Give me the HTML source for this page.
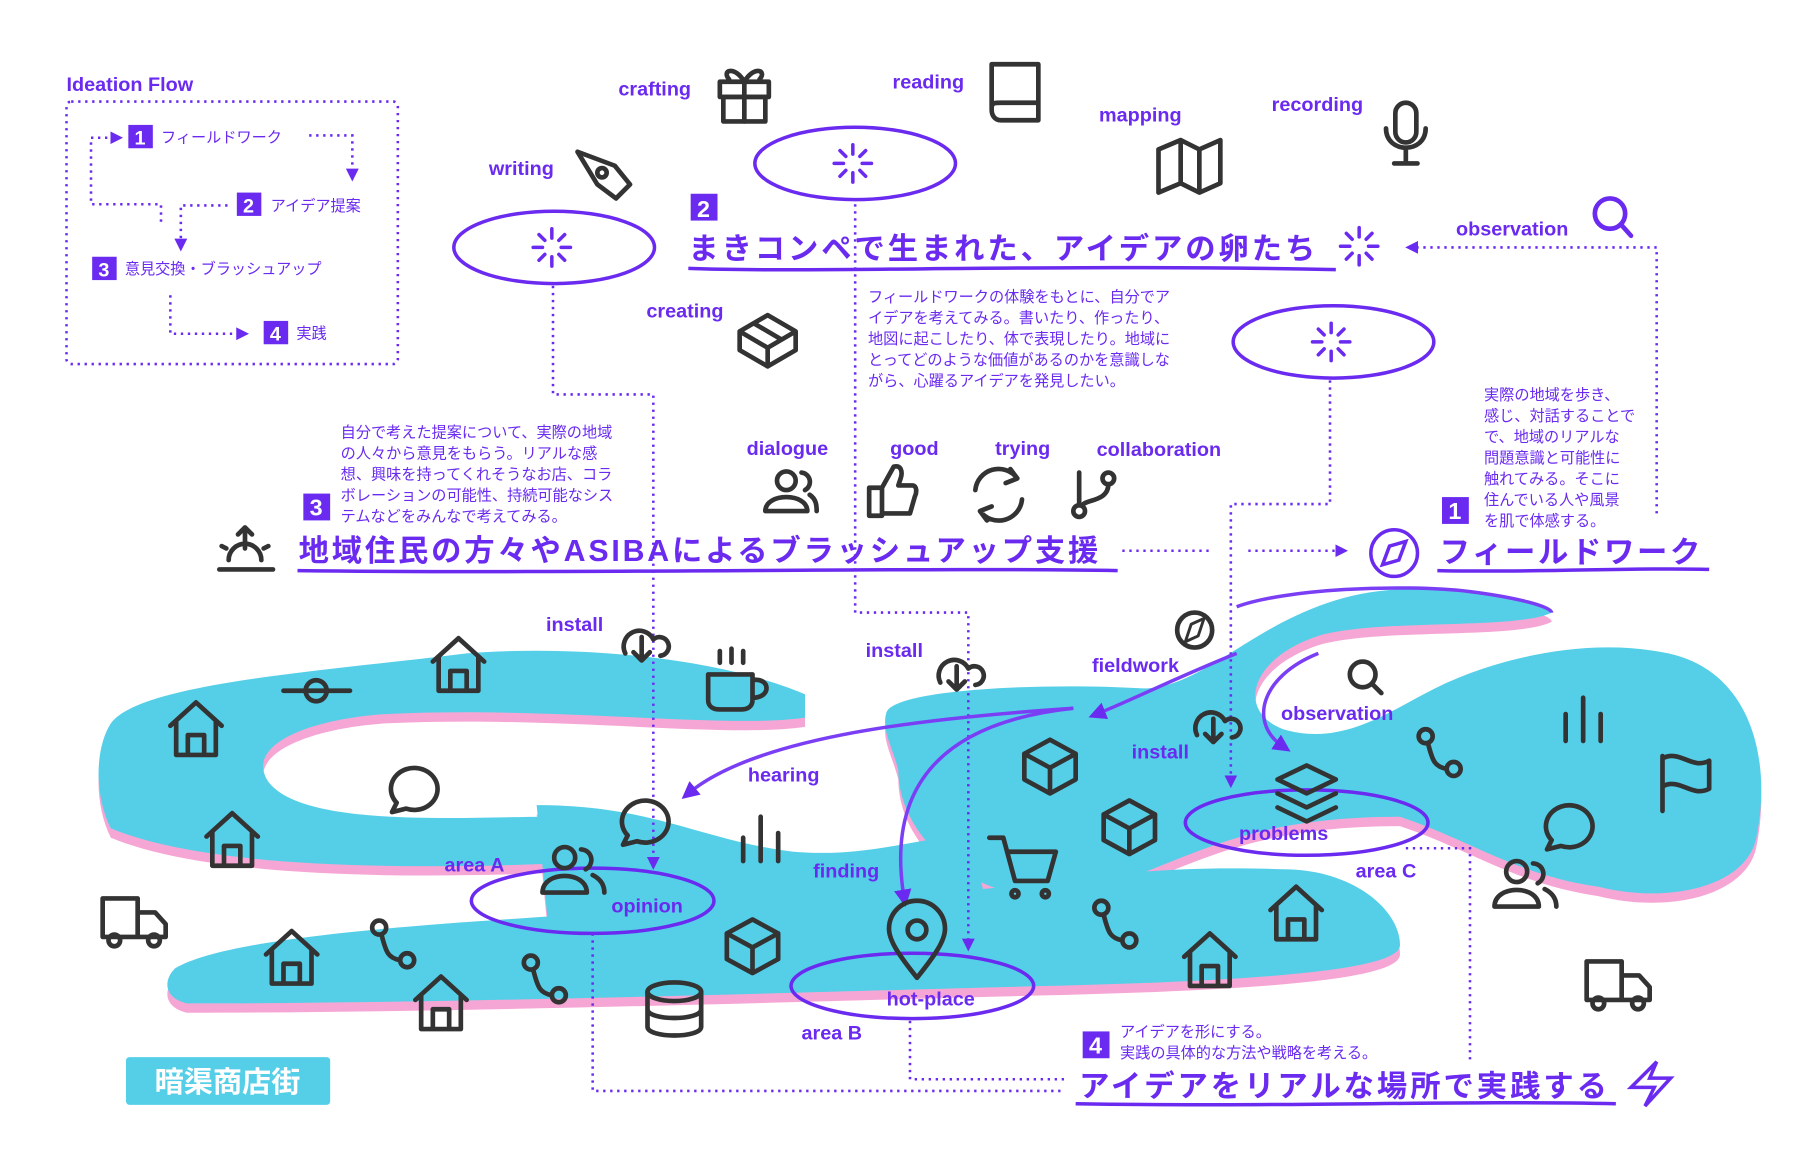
<!DOCTYPE html>
<html><head><meta charset="utf-8"><style>
html,body{margin:0;padding:0;background:#fff;}
svg{display:block;}
text{font-family:"Liberation Sans","Noto Sans CJK JP",sans-serif;}
.l{fill:#6a2af0;font-weight:bold;font-size:17px;}
.j{fill:#6a2af0;font-size:13px;}
.h{fill:#6a2af0;font-size:26px;font-weight:bold;letter-spacing:2.6px;}
.d{fill:none;stroke:#6a2af0;stroke-width:2.2;stroke-dasharray:2 4;}
.e{fill:none;stroke:#6a2af0;stroke-width:3;}
.i{fill:none;stroke:#333;stroke-width:4;stroke-linecap:round;stroke-linejoin:round;}
.p{fill:none;stroke:#7a3ef5;stroke-width:3;}
</style></head><body>
<svg width="1820" height="1154" viewBox="0 0 1560 989" xmlns="http://www.w3.org/2000/svg">
<defs><marker id="a" viewBox="0 0 10 10" refX="5" refY="5" markerWidth="5" markerHeight="5" orient="auto"><path d="M0,0L10,5L0,10Z" fill="#6a2af0"/></marker>
<g id="hs"><path d="M-22,0L0,-20 22,0M-17,-4V25H17V-4M-7,25V8H7V25"/></g>
<g id="cb"><path d="M0,-22L22,-10V12L0,24 -22,12V-10ZM-22,-10L0,2 22,-10M0,2V24"/></g>
<g id="br"><circle cx="0" cy="0" r="6"/><circle cx="24" cy="28" r="6"/><path d="M2,6C6,22 8,26 18,28"/></g>
</defs>
<g fill="#f6a6d4" transform="translate(0,8)">
<path d="M95,620C120,585 280,575 400,560C500,552 620,565 690,595L690,615C620,625 480,605 330,612C260,617 210,640 230,670C260,710 400,700 470,700L480,740C350,745 180,745 95,710C80,680 82,640 95,620Z"/>
<path d="M460,690C560,690 600,720 680,730C740,735 780,720 830,715L850,790L470,795Z"/>
<path d="M150,830C200,800 400,790 560,780C620,775 700,770 800,765C900,760 960,740 1100,745C1160,745 1200,780 1200,810C1200,830 1100,840 900,845C700,850 400,860 160,860C140,855 140,840 150,830Z"/>
<path d="M760,610C770,590 900,585 980,590C1040,590 1090,510 1200,505C1260,505 1330,515 1330,525C1300,540 1180,530 1130,545C1070,565 1060,610 1100,625C1150,640 1190,610 1230,590C1280,565 1360,545 1430,560C1500,575 1520,650 1505,720C1495,760 1430,775 1370,760C1300,750 1260,720 1200,700C1100,700 1050,720 1000,740C950,760 900,780 850,760C800,740 770,700 770,660C765,640 755,625 760,610Z"/>
</g>
<g fill="#55cfe8">
<path d="M95,620C120,585 280,575 400,560C500,552 620,565 690,595L690,615C620,625 480,605 330,612C260,617 210,640 230,670C260,710 400,700 470,700L480,740C350,745 180,745 95,710C80,680 82,640 95,620Z"/>
<path d="M460,690C560,690 600,720 680,730C740,735 780,720 830,715L850,790L470,795Z"/>
<path d="M150,830C200,800 400,790 560,780C620,775 700,770 800,765C900,760 960,740 1100,745C1160,745 1200,780 1200,810C1200,830 1100,840 900,845C700,850 400,860 160,860C140,855 140,840 150,830Z"/>
<path d="M760,610C770,590 900,585 980,590C1040,590 1090,510 1200,505C1260,505 1330,515 1330,525C1300,540 1180,530 1130,545C1070,565 1060,610 1100,625C1150,640 1190,610 1230,590C1280,565 1360,545 1430,560C1500,575 1520,650 1505,720C1495,760 1430,775 1370,760C1300,750 1260,720 1200,700C1100,700 1050,720 1000,740C950,760 900,780 850,760C800,740 770,700 770,660C765,640 755,625 760,610Z"/>
</g>
<path d="M1060,520C1100,505 1200,500 1260,507C1300,512 1330,520 1330,525" class="p"/>
<text x="57" y="78" class="l" font-size="14">Ideation Flow</text>
<rect x="57" y="87" width="284" height="225" rx="4" class="d"/>
<rect x="110" y="107" width="21" height="20" fill="#6a2af0"/><text x="120" y="124" fill="#fff" font-weight="bold" font-size="17" text-anchor="middle">1</text>
<text x="138" y="122" class="j" font-size="14">フィールドワーク</text>
<rect x="203" y="165" width="21" height="20" fill="#6a2af0"/><text x="213" y="182" fill="#fff" font-weight="bold" font-size="17" text-anchor="middle">2</text>
<text x="232" y="181" class="j" font-size="14">アイデア提案</text>
<rect x="79" y="220" width="21" height="20" fill="#6a2af0"/><text x="89" y="237" fill="#fff" font-weight="bold" font-size="17" text-anchor="middle">3</text>
<text x="107" y="235" class="j" font-size="14">意見交換・ブラッシュアップ</text>
<rect x="226" y="275" width="21" height="20" fill="#6a2af0"/><text x="236" y="292" fill="#fff" font-weight="bold" font-size="17" text-anchor="middle">4</text>
<text x="254" y="290" class="j" font-size="14">実践</text>
<path d="M265,116H302V150" class="d" marker-end="url(#a)"/>
<path d="M195,176H155V210" class="d" marker-end="url(#a)"/>
<path d="M138,190V175H78V118H100" class="d" marker-end="url(#a)"/>
<path d="M146,253V286H208" class="d" marker-end="url(#a)"/>
<ellipse cx="475" cy="212" rx="86" ry="31" class="e"/>
<ellipse cx="733" cy="140" rx="86" ry="31" class="e"/>
<ellipse cx="1143" cy="293" rx="86" ry="31" class="e"/>
<g stroke="#6a2af0" stroke-width="3" stroke-linecap="round">
<g transform="translate(473,212)"><path d="M0,-16V-8M0,8V16M-16,0H-8M8,0H16M-11,-11L-6,-6M6,6L11,11M-11,11L-6,6M6,-6L11,-11"/></g>
<g transform="translate(731,140)"><path d="M0,-16V-8M0,8V16M-16,0H-8M8,0H16M-11,-11L-6,-6M6,6L11,11M-11,11L-6,6M6,-6L11,-11"/></g>
<g transform="translate(1141,293)"><path d="M0,-16V-8M0,8V16M-16,0H-8M8,0H16M-11,-11L-6,-6M6,6L11,11M-11,11L-6,6M6,-6L11,-11"/></g>
<g transform="translate(1165,211)"><path d="M0,-16V-8M0,8V16M-16,0H-8M8,0H16M-11,-11L-6,-6M6,6L11,11M-11,11L-6,6M6,-6L11,-11"/></g>
</g>
<text x="530" y="82" class="l">crafting</text>
<text x="765" y="76" class="l">reading</text>
<text x="942" y="104" class="l">mapping</text>
<text x="1090" y="95" class="l">recording</text>
<text x="419" y="150" class="l">writing</text>
<text x="1248" y="202" class="l">observation</text>
<text x="554" y="272" class="l">creating</text>
<text x="640" y="390" class="l">dialogue</text>
<text x="763" y="390" class="l">good</text>
<text x="853" y="390" class="l">trying</text>
<text x="940" y="391" class="l">collaboration</text>
<g class="i" stroke-width="3.5">
<rect x="617" y="70" width="42" height="13"/><rect x="620" y="83" width="36" height="21"/><path d="M638,70V104M638,70C630,56 618,60 625,68M638,70C646,56 658,60 651,68"/>
<path d="M850,55H890V103H858C852,103 850,98 850,94ZM850,92C850,88 853,88 858,88H890"/>
<path d="M993,128L1012,120 1028,128 1046,120V157L1028,165 1012,157 993,165ZM1012,120V157M1028,128V165"/>
<rect x="1196" y="88" width="18" height="34" rx="9"/><path d="M1188,110C1188,132 1222,132 1222,110M1205,128V140M1195,140H1215"/>
<path d="M495,130L527,142 540,158 528,170 512,158Z"/><circle cx="516" cy="148" r="4"/>
<circle cx="1380" cy="183" r="13" stroke="#6a2af0"/><path d="M1390,193L1398,202" stroke="#6a2af0"/>
<path d="M658,270L682,284V300L658,314 634,300V284ZM634,284L658,298 682,284M658,298V314M646,277L670,291"/>
<circle cx="674" cy="412" r="8"/><path d="M656,438C656,422 692,422 692,438ZM687,405A8,8 0 0 1 690,420M694,424C700,428 700,434 700,438"/>
<path d="M745,418H756V442H745ZM756,418L766,400C772,398 774,404 772,410L770,416H782C786,416 786,422 784,426L780,440H756"/>
<path d="M836,420A20,20 0 0 1 872,410M876,428A20,20 0 0 1 840,438M866,402L872,410 862,414M846,446L840,438 850,434"/>
<circle cx="925" cy="438" r="5"/><circle cx="950" cy="410" r="5"/><path d="M925,405V433M950,415C950,430 930,428 928,433"/>
</g>
<rect x="592" y="166" width="23" height="23" fill="#6a2af0"/><text x="603" y="186" fill="#fff" font-weight="bold" font-size="20" text-anchor="middle">2</text>
<text x="590" y="222" class="h" textLength="540">まきコンペで生まれた、アイデアの卵たち</text>
<path d="M590,230C700,234 900,226 1145,231" class="e" stroke-width="2"/>
<text x="744" y="259" class="j">フィールドワークの体験をもとに、自分でア</text>
<text x="744" y="277" class="j">イデアを考えてみる。書いたり、作ったり、</text>
<text x="744" y="295" class="j">地図に起こしたり、体で表現したり。地域に</text>
<text x="744" y="313" class="j">とってどのような価値があるのかを意識しな</text>
<text x="744" y="331" class="j">がら、心躍るアイデアを発見したい。</text>
<text x="292" y="375" class="j">自分で考えた提案について、実際の地域</text>
<text x="292" y="393" class="j">の人々から意見をもらう。リアルな感</text>
<text x="292" y="411" class="j">想、興味を持ってくれそうなお店、コラ</text>
<text x="292" y="429" class="j">ボレーションの可能性、持続可能なシス</text>
<text x="292" y="447" class="j">テムなどをみんなで考えてみる。</text>
<rect x="260" y="423" width="23" height="23" fill="#6a2af0"/><text x="271" y="442" fill="#fff" font-weight="bold" font-size="20" text-anchor="middle">3</text>
<text x="256" y="481" class="h" textLength="688">地域住民の方々やASIBAによるブラッシュアップ支援</text>
<path d="M255,489C500,492 800,486 958,489" class="e" stroke-width="2"/>
<g class="i" stroke="#6a2af0" stroke-width="2.5"><path d="M188,488H234M196,480A14,14 0 0 1 224,480M210,470V452M204,458L210,452 216,458M190,468L194,470M230,468L226,470"/></g>
<text x="1272" y="343" class="j">実際の地域を歩き、</text>
<text x="1272" y="361" class="j">感じ、対話することで</text>
<text x="1272" y="379" class="j">で、地域のリアルな</text>
<text x="1272" y="397" class="j">問題意識と可能性に</text>
<text x="1272" y="415" class="j">触れてみる。そこに</text>
<text x="1272" y="433" class="j">住んでいる人や風景</text>
<text x="1272" y="451" class="j">を肌で体感する。</text>
<rect x="1236" y="426" width="23" height="23" fill="#6a2af0"/><text x="1247" y="445" fill="#fff" font-weight="bold" font-size="20" text-anchor="middle">1</text>
<circle cx="1195" cy="474" r="20" class="e"/><path d="M1185,484L1191,468 1205,464 1199,480Z" class="e" stroke-width="2.5"/>
<text x="1234" y="482" class="h" textLength="226">フィールドワーク</text>
<path d="M1232,489C1320,491 1400,486 1465,488" class="e" stroke-width="2"/>
<rect x="928" y="884" width="23" height="23" fill="#6a2af0"/><text x="939" y="903" fill="#fff" font-weight="bold" font-size="20" text-anchor="middle">4</text>
<text x="960" y="889" class="j">アイデアを形にする。</text>
<text x="960" y="907" class="j">実践の具体的な方法や戦略を考える。</text>
<text x="925" y="940" class="h" textLength="455">アイデアをリアルな場所で実践する</text>
<path d="M922,946C1100,949 1250,943 1385,946" class="e" stroke-width="2"/>
<path d="M1420,910L1398,932H1418L1410,948 1432,924H1414Z" class="e" stroke-width="3"/>
<rect x="108" y="906" width="175" height="41" rx="3" fill="#55cfe8"/>
<text x="195" y="936" fill="#fff" font-size="25" font-weight="bold" text-anchor="middle">暗渠商店街</text>
<path d="M474,245V338H560V740" class="d" marker-end="url(#a)"/>
<path d="M733,175V525H830V810" class="d" marker-end="url(#a)"/>
<path d="M1140,326V432H1055V670" class="d" marker-end="url(#a)"/>
<path d="M1420,440V212H1210" class="d" marker-end="url(#a)"/>
<path d="M962,472H1040M1070,472H1150" class="d" marker-end="url(#a)"/>
<path d="M508,800V935H912" class="d"/>
<path d="M780,875V925H912" class="d"/>
<path d="M1205,727H1260V910" class="d"/>
<ellipse cx="508" cy="772" rx="104" ry="28" class="e"/>
<ellipse cx="782" cy="845" rx="104" ry="28" class="e"/>
<ellipse cx="1120" cy="705" rx="104" ry="28" class="e"/>
<path d="M920,607C800,615 650,630 590,680" class="p" marker-end="url(#a)"/>
<path d="M920,607C800,620 760,680 775,770" class="p" marker-end="url(#a)"/>
<path d="M1130,560C1080,580 1070,620 1100,640" class="p" marker-end="url(#a)"/>
<path d="M1060,560C1010,580 970,600 940,612" class="p" marker-end="url(#a)"/>
<text x="468" y="541" class="l">install</text>
<text x="742" y="563" class="l">install</text>
<text x="936" y="576" class="l">fieldwork</text>
<text x="970" y="650" class="l">install</text>
<text x="1098" y="617" class="l">observation</text>
<text x="641" y="670" class="l">hearing</text>
<text x="697" y="752" class="l">finding</text>
<text x="381" y="747" class="l">area A</text>
<text x="524" y="782" class="l">opinion</text>
<text x="1062" y="720" class="l">problems</text>
<text x="1162" y="752" class="l">area C</text>
<text x="760" y="862" class="l">hot-place</text>
<text x="687" y="891" class="l">area B</text>
<g class="i" stroke="#6a2af0" stroke-width="3">
<path d="M536,560A12,12 0 1 1 560,548A8,8 0 1 1 566,562M550,546V566M543,559L550,566 557,559"/>
<path d="M806,585A12,12 0 1 1 830,573A8,8 0 1 1 836,587M820,571V591M813,584L820,591 827,584"/>
<path d="M1026,630A12,12 0 1 1 1050,618A8,8 0 1 1 1056,632M1040,616V636M1033,629L1040,636 1047,629"/>
</g>
<g class="i">
<use href="#hs" x="168" y="622"/><use href="#hs" x="393" y="567"/><use href="#hs" x="199" y="717"/>
<use href="#hs" x="250" y="818"/><use href="#hs" x="378" y="857"/><use href="#hs" x="1037" y="820"/><use href="#hs" x="1111" y="780"/>
<path d="M243,592H300"/><circle cx="271" cy="592" r="9"/>
<path d="M607,578H645V600C645,606 640,608 635,608H617C612,608 607,606 607,600ZM645,583C660,580 662,598 645,598M617,568V558M627,568V556M637,568V558"/>
<path d="M340,688A20,18 0 1 1 348,693L336,696Z"/>
<path d="M538,716A20,18 0 1 1 546,721L534,724Z"/>
<path d="M1330,720A20,18 0 1 1 1338,725L1326,728Z"/>
<path d="M637,738V718M652,738V700M667,738V714"/>
<path d="M1342,635V612M1357,635V598M1372,635V612"/>
<use href="#cb" x="900" y="656"/><use href="#cb" x="968" y="708"/><use href="#cb" x="645" y="810"/>
<path d="M1095,668L1120,656 1145,668 1120,680ZM1095,680L1120,692 1145,680M1095,692L1120,704 1145,692"/>
<circle cx="1168" cy="578" r="11"/><path d="M1176,586L1184,594"/>
<circle cx="1024" cy="540" r="15"/><path d="M1016,550L1021,535 1032,530 1027,545Z" stroke-width="2.5"/>
<path d="M848,718H860L870,755H898L905,730H864"/><circle cx="870" cy="766" r="3"/><circle cx="896" cy="766" r="3"/>
<path d="M786,838C770,818 762,806 762,796A24,24 0 0 1 810,796C810,806 802,818 786,838Z"/><circle cx="786" cy="797" r="8"/>
<ellipse cx="578" cy="850" rx="23" ry="8"/><path d="M555,850V880C555,890 601,890 601,880V850M555,865C555,875 601,875 601,865"/>
<use href="#br" x="325" y="795"/><use href="#br" x="455" y="825"/><use href="#br" x="944" y="778"/><use href="#br" x="1222" y="631"/>
<circle cx="484" cy="735" r="9"/><path d="M465,765C465,746 503,746 503,765ZM498,728A9,9 0 0 1 502,745M508,750C516,754 518,760 518,765"/>
<circle cx="1300" cy="747" r="9"/><path d="M1281,777C1281,758 1319,758 1319,777ZM1314,740A9,9 0 0 1 1318,757M1324,762C1332,766 1334,772 1334,777"/>
<path d="M1425,695V648M1425,650C1440,642 1450,660 1465,652V676C1450,684 1440,666 1425,674"/>
<path d="M88,770H118V803H88ZM118,782H133L142,792V803H118"/><circle cx="98" cy="806" r="5"/><circle cx="132" cy="806" r="5"/>
<path d="M1360,824H1390V857H1360ZM1390,836H1405L1414,846V857H1390"/><circle cx="1370" cy="860" r="5"/><circle cx="1404" cy="860" r="5"/>
</g>
</svg>
</body></html>
